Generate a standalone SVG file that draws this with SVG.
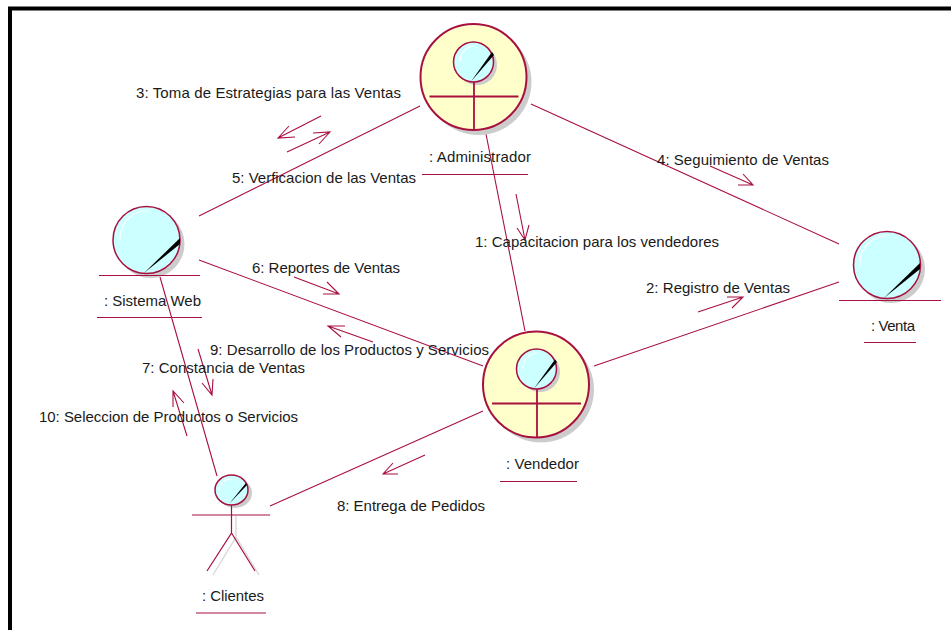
<svg xmlns="http://www.w3.org/2000/svg" width="951" height="630" viewBox="0 0 951 630">
<style>
text{font-family:"Liberation Sans",Arial,sans-serif;font-size:15px;fill:#1a1a1a}
.l{stroke:#a8113f;stroke-width:1.1;fill:none}
.b{stroke:#a8113f;stroke-width:1.8;fill:none}
.y{fill:#ffffcb;stroke:#a8113f;stroke-width:2}
.c{fill:#ccffff;stroke:#a8113f;stroke-width:1.5}
.s{fill:#cccccc}
.h{fill:none;stroke:#fff;stroke-width:1.2}
.k{fill:#000}
</style>
<rect width="951" height="630" fill="#fff"/>
<path d="M10 630V8.500H951" fill="none" stroke="#000" stroke-width="4"/>
<g id="connectors">
<path class="l" d="M199 216L420 106M531 104L839 244M486 134L525 331M199 260L483 366M594 366L839 282M160 277L217 476M483 411L270 506"/>
<path class="l" d="M321 116L278 138M289 126L278 138L295 137M287 152L330 132M313 133L330 132L319 144M710 166L753 185M743 174L753 185L738 185M516 194L525 240M517 228L525 240L529 225M294 277L339 294M327 282L339 294L323 294M373 342L328 326M345 326L328 326L341 337M698 312L743 297M732 308L743 297L727 297M425 455L383 474M398 474L383 474L393 463M198 349L212 395M202 383L212 395L213 379M187 436L173 391M173 407L173 391L184 403"/>
</g>
<g id="administrador">
<circle class="s" cx="478.500" cy="82" r="53"/>
<circle class="y" cx="473.500" cy="77" r="53"/>
<circle class="s" cx="477" cy="65" r="20"/>
<circle class="c" cx="473.500" cy="62" r="20"/>
<path class="h" d="M460 62A15 15 0 0 1 474 46"/>
<path class="k" d="M471 81.500L492 52L494 55Z"/>
<path class="b" d="M429.500 96.500H518.500M474 82V130"/>
<text x="429" y="162" textLength="102">: Administrador</text>
<path class="l" d="M422 174.500H528"/>
</g>
<g id="vendedor">
<circle class="s" cx="541" cy="389.500" r="53"/>
<circle class="y" cx="536" cy="384.500" r="53"/>
<circle class="s" cx="540" cy="372" r="20"/>
<circle class="c" cx="536.500" cy="369" r="20"/>
<path class="h" d="M523 369A15 15 0 0 1 537 353"/>
<path class="k" d="M534 388.500L555 359.500L557 362Z"/>
<path class="b" d="M492 403.500H581M537 389V437"/>
<text x="506" y="469" textLength="73">: Vendedor</text>
<path class="l" d="M500 481.500H577"/>
</g>
<g id="sistema-web">
<circle class="s" cx="150.500" cy="244" r="34"/>
<circle class="c" cx="146.500" cy="240" r="33.500"/>
<path class="h" d="M120 240A27 27 0 0 1 147 211"/>
<path class="k" d="M144 273L180 238L180 244Z"/>
<path class="l" d="M99 275.500H200"/>
<text x="104" y="306" textLength="97">: Sistema Web</text>
<path class="l" d="M97 317.500H202"/>
</g>
<g id="venta">
<circle class="s" cx="891" cy="269" r="34"/>
<circle class="c" cx="887" cy="265" r="33.500"/>
<path class="h" d="M860 265A27 27 0 0 1 887 236"/>
<path class="k" d="M884 298L920 263L920 269Z"/>
<path class="l" d="M839 300.500H941"/>
<text x="871" y="331" textLength="44">: Venta</text>
<path class="l" d="M864 342.500H916"/>
</g>
<g id="clientes">
<ellipse class="s" cx="235" cy="493" rx="17" ry="15"/>
<ellipse class="c" cx="231.500" cy="490" rx="16.500" ry="15"/>
<path class="h" d="M219 490A12 11 0 0 1 232 479"/>
<path class="k" d="M229 504L246 483L247 485Z"/>
<path d="M236 516V537L213 575M236 537L259 575" fill="none" stroke="#d8d8d8" stroke-width="1.4"/>
<path class="l" d="M192 515H270"/>
<path class="b" style="stroke-width:1.200" d="M231.500 505V533L207 571M231.500 533L255 571"/>
<text x="202" y="601" textLength="62">: Clientes</text>
<path class="l" d="M196 613H266"/>
</g>
<g id="labels">
<text x="136" y="98" textLength="265">3: Toma de Estrategias para las Ventas</text>
<text x="232" y="183" textLength="184">5: Verficacion de las Ventas</text>
<text x="657" y="165" textLength="172">4: Seguimiento de Ventas</text>
<text x="475" y="247" textLength="244">1: Capacitacion para los vendedores</text>
<text x="252" y="273" textLength="148">6: Reportes de Ventas</text>
<text x="646" y="293" textLength="144">2: Registro de Ventas</text>
<text x="210" y="355" textLength="279">9: Desarrollo de los Productos y Servicios</text>
<text x="142" y="373" textLength="163">7: Constancia de Ventas</text>
<text x="39" y="422" textLength="259">10: Seleccion de Productos o Servicios</text>
<text x="337" y="511" textLength="148">8: Entrega de Pedidos</text>
</g>
</svg>
